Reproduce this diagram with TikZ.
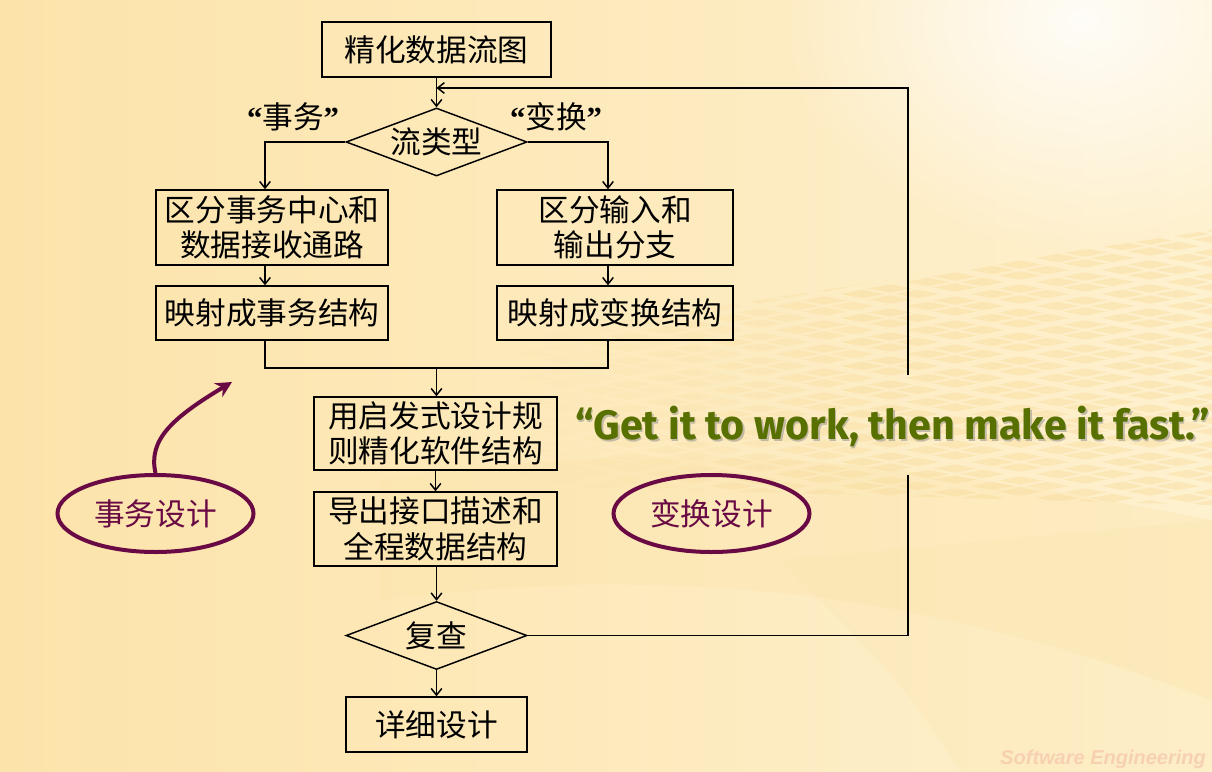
\documentclass[tikz,border=0pt]{standalone}
\usepackage{fontspec}
\usepackage{graphicx}
\setmainfont{Noto Sans CJK SC}
\newfontfamily\quotefont{Liberation Serif}
\newfontfamily\mottofont{Fira Sans}
\newfontfamily\markfont{Liberation Sans}
\usetikzlibrary{shapes.geometric, arrows.meta, fadings}

\definecolor{plum}{HTML}{6A0A44}
\definecolor{motto}{HTML}{577000}
\definecolor{bgL}{HTML}{FCE3AA}
\definecolor{bgM}{HTML}{FFF5DC}
\definecolor{bgR}{HTML}{FEF1CF}
\definecolor{tile}{HTML}{F8DA98}
\definecolor{wave}{HTML}{FBE2A6}
\definecolor{mark}{HTML}{F2B9A4}

\tikzfading[name=glow, inner color=transparent!0, outer color=transparent!100]

\newcommand\cnsize{\fontsize{23pt}{26.5pt}\selectfont}

\tikzset{
  stepbox/.style={draw, line width=1.1pt, inner sep=0pt, align=center, font=\cnsize},
  decision/.style={draw, line width=1.1pt, shape=diamond, aspect=2.66, inner sep=0pt,
    minimum width=135.75pt, minimum height=51pt, font=\cnsize},
  flow/.style={line width=1.1pt, -{Straight Barb[length=5pt,width=8pt]}},
  link/.style={line width=1.1pt},
  oval/.style={draw=plum, line width=3pt, shape=ellipse, inner sep=0pt,
    minimum width=147pt, minimum height=57.75pt, text=plum, font=\cnsize},
  branch/.style={font=\cnsize},
}

\begin{document}
\begin{tikzpicture}[x=0.75pt, y=-0.75pt]
\useasboundingbox (0,0) rectangle (1212,771);

% slide background
\begin{scope}
\clip (0,0) rectangle (1212,771);
\fill[left color=bgL, middle color=bgM, right color=bgR] (0,0) rectangle (1212,771);
\fill[white, path fading=glow, opacity=0.85] (1080,20) ellipse (300 and 230);
\fill[wave, opacity=0.3] (380,480) .. controls (700,430) and (950,470) .. (1212,520)
  -- (1212,700) .. controls (950,600) and (700,560) .. (380,600) -- cycle;
\fill[wave, opacity=0.2] (780,560) -- (1212,520) -- (1212,771) -- (960,771) .. controls (900,680) .. (780,560) -- cycle;
% diamond tiles
\begin{scope}
\clip (500,340) -- (1212,230) -- (1212,505) -- (500,485) -- cycle;
\foreach \r in {0,...,24} {
  \foreach \c in {0,...,6} {
    \pgfmathsetmacro\cx{500 + \c*130 + mod(\r,2)*65}
    \pgfmathsetmacro\cy{222 + \r*12}
    \pgfmathsetmacro\op{max(0,min(0.42,(\cx-500)/900))}
    \foreach \dx/\dy in {-27.5/0, 27.5/0, 0/-5.5, 0/5.5} {
      \fill[tile, opacity=\op] (\cx+\dx-22,\cy+\dy) -- (\cx+\dx,\cy+\dy-4.2)
        -- (\cx+\dx+22,\cy+\dy) -- (\cx+\dx,\cy+\dy+4.2) -- cycle;
    }
  }
}
\end{scope}
\end{scope}
\node[anchor=south west, text=mark, opacity=0.55, inner sep=0pt,
  font=\markfont\bfseries\itshape\fontsize{15pt}{15pt}\selectfont] (wm) at (1000,769) {Software Engineering};

% flow chart
\node[stepbox, minimum width=171.75pt, minimum height=41.25pt] (dfd) at (436.5,49.5) {精化数据流图};
\node[decision] (kind) at (436.5,142) {流类型};
\node[branch] (ltag) at (293,117) {{\quotefont\bfseries “}事务{\quotefont\bfseries ”}};
\node[branch] (rtag) at (556,117) {{\quotefont\bfseries “}变换{\quotefont\bfseries ”}};

\node[stepbox, minimum width=174pt, minimum height=56.25pt] (tcenter) at (272,227.5) {区分事务中心和\\数据接收通路};
\node[stepbox, minimum width=177pt, minimum height=56.25pt] (iobranch) at (615,227.5) {区分输入和\\输出分支};
\node[stepbox, minimum width=174pt, minimum height=40.5pt] (tmap) at (272,313) {映射成事务结构};
\node[stepbox, minimum width=177pt, minimum height=40.5pt] (xmap) at (615,313) {映射成变换结构};

\node[stepbox, minimum width=182.25pt, minimum height=54.75pt] (refine) at (435.5,433.5) {用启发式设计规\\则精化软件结构};
\node[stepbox, minimum width=182.25pt, minimum height=55.5pt] (iface) at (435.5,529) {导出接口描述和\\全程数据结构};
\node[decision] (review) at (436.5,635.5) {复查};
\node[stepbox, minimum width=135.75pt, minimum height=41.25pt] (detail) at (436.5,724.5) {详细设计};

\coordinate (join) at (436.5,88);
\coordinate (merge) at (436.5,368);
\coordinate (loopLow) at (908,475);
\coordinate (loopHigh) at (908,375);

\draw[flow] (dfd) -- (kind);
\draw[flow] (kind.west) -| ([xshift=-5.25pt]tcenter.north);
\draw[flow] (kind.east) -| ([xshift=-5.25pt]iobranch.north);
\draw[flow] ([xshift=-5.25pt]tcenter.south) -- ([xshift=-5.25pt]tmap.north);
\draw[flow] ([xshift=-5.25pt]iobranch.south) -- ([xshift=-5.25pt]xmap.north);
\draw[link] ([xshift=-5.25pt]tmap.south) |- (merge) -| ([xshift=-5.25pt]xmap.south);
\draw[flow] (merge) -- (merge |- refine.north);
\draw[flow] (refine) -- (iface);
\draw[flow] (iface.south -| review.north) -- (review.north);
\draw[flow] (review) -- (detail);
\draw[link] (review.east) -| (loopLow);
\draw[flow] (loopHigh) |- (join);

% annotations
\node[oval] (tdesign) at (155.5,513.5) {事务设计};
\node[oval] (xdesign) at (711.5,513.5) {变换设计};
\coordinate (hint) at (232,382);
\draw[plum, line width=3pt, -{Stealth[length=12pt,width=12pt]}]
  (tdesign.north) .. controls (148,440) and (172,418) .. (hint);

\node[inner sep=0pt, text=black!45, opacity=0.5] (mottoshadow) at (894,428)
  {\resizebox{476pt}{!}{\mottofont\bfseries “Get it to work, then make it fast.”}};
\node[inner sep=0pt, text=motto] (motto) at (892.5,426)
  {\resizebox{476pt}{!}{\mottofont\bfseries “Get it to work, then make it fast.”}};
\end{tikzpicture}
\end{document}
